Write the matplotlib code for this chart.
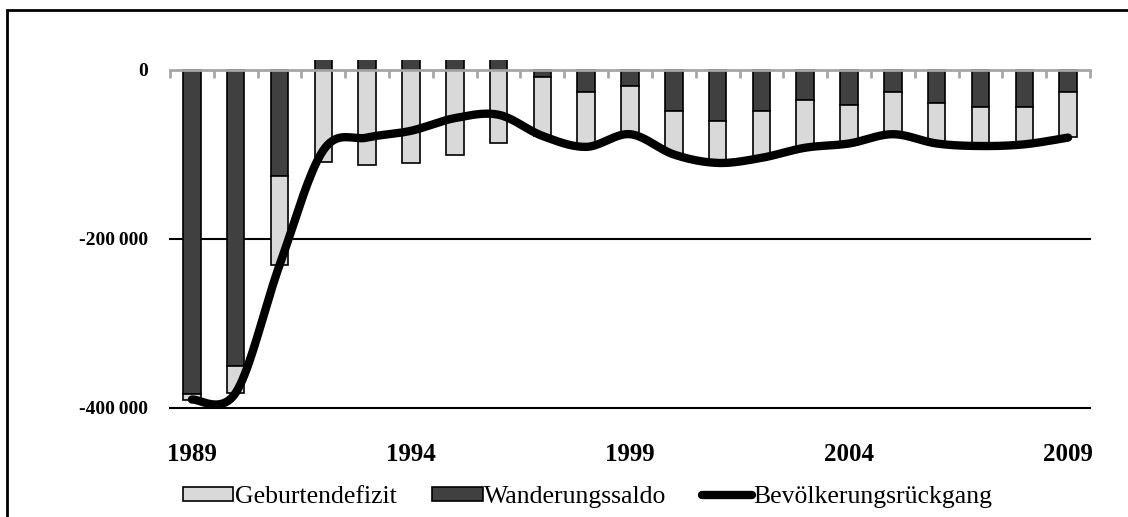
import matplotlib
matplotlib.use('Agg')
import matplotlib.pyplot as plt
import numpy as np
from matplotlib.patches import Patch, Rectangle
from matplotlib.lines import Line2D

years = list(range(1989, 2010))
# Geburtendefizit (light bars)
geburtendefizit = [-6000, -32000, -105000, -109000, -112000, -110000, -101000,
                   -87000, -70000, -65000, -57000, -51000, -49000, -54000,
                   -56000, -45000, -49000, -48000, -46000, -45000, -53000]
# Wanderungssaldo (dark bars), positive values are cut at the top of the plot
wanderungssaldo = [-384000, -350000, -126000, 14000, 32000, 38000, 44000,
                   34000, -8000, -26000, -18500, -49000, -60000, -49000,
                   -35500, -41500, -26500, -38500, -43500, -43500, -26500]
# Bevölkerungsrückgang (smoothed line)
rueckgang = [-390000, -382000, -231000, -95000, -80000, -72000, -57000,
             -53000, -78000, -91000, -76000, -100000, -110000, -104000,
             -92000, -87000, -76000, -87000, -90000, -88000, -80000]
year_labels = ['1989', '1994', '1999', '2004', '2009']
y_ticks = [0, -200000, -400000]
y_labels = ['0', '-200\u2009000', '-400\u2009000']

serif = ['Liberation Serif', 'DejaVu Serif']
light = '#d9d9d9'
dark = '#404040'


def smooth(xs, ys, n=20):
    """Catmull-Rom curve through the points (like Excel's smoothed line)."""
    xs = np.asarray(xs, float)
    ys = np.asarray(ys, float)
    px = np.concatenate([[xs[0]], xs, [xs[-1]]])
    py = np.concatenate([[ys[0]], ys, [ys[-1]]])
    out_x, out_y = [], []
    t = np.linspace(0, 1, n, endpoint=False)
    for i in range(1, len(px) - 2):
        for p, out in ((px, out_x), (py, out_y)):
            p0, p1, p2, p3 = p[i - 1], p[i], p[i + 1], p[i + 2]
            c1 = p1 + (p2 - p0) / 6
            c2 = p2 - (p3 - p1) / 6
            out.extend((1 - t) ** 3 * p1 + 3 * (1 - t) ** 2 * t * c1
                       + 3 * (1 - t) * t ** 2 * c2 + t ** 3 * p2)
    out_x.append(xs[-1])
    out_y.append(ys[-1])
    return np.array(out_x), np.array(out_y)


fig = plt.figure(figsize=(11.28, 5.17), dpi=100)
ax = fig.add_axes([170 / 1128, 1 - 408 / 517, 920 / 1128, 348 / 517])

x = np.arange(len(years))
w = np.array(wanderungssaldo)
g = np.array(geburtendefizit)
width = 0.4

ax.bar(x, w, width, color=dark, edgecolor='black', linewidth=1.2, zorder=2)
ax.bar(x, g, width, bottom=np.minimum(w, 0), color=light,
       edgecolor='black', linewidth=1.2, zorder=2)

sx, sy = smooth(x, rueckgang)
ax.plot(sx, sy, color='black', lw=6, solid_capstyle='round', zorder=4)

ax.set_xlim(-0.5, len(years) - 0.5)
ax.set_ylim(-400000, 11800)

# horizontal grid lines
for v in y_ticks[1:]:
    ax.axhline(v, color='black', lw=1.5, zorder=1, clip_on=False)

for s in ['top', 'right', 'left']:
    ax.spines[s].set_visible(False)
ax.spines['bottom'].set_position(('data', 0))
ax.spines['bottom'].set_color('#a6a6a6')
ax.spines['bottom'].set_linewidth(2)
ax.spines['bottom'].set_zorder(3)
ax.set_xticks(np.arange(-0.5, len(years), 1.0))
ax.tick_params(axis='x', direction='out', length=6, width=2,
               color='#a6a6a6', labelbottom=False)

ax.set_yticks(y_ticks)
ax.set_yticklabels(y_labels, family=serif, fontweight='bold', fontsize=14)
ax.tick_params(axis='y', length=0, pad=16)

sec = ax.secondary_xaxis('bottom')
sec.set_xticks([years.index(int(y)) for y in year_labels])
sec.set_xticklabels(year_labels, family=serif, fontweight='bold', fontsize=18)
sec.tick_params(length=0, pad=25)
sec.spines['bottom'].set_visible(False)

handles = [Patch(facecolor=light, edgecolor='black', linewidth=1.2),
           Patch(facecolor=dark, edgecolor='black', linewidth=1.2),
           Line2D([0], [0], color='black', lw=6, solid_capstyle='round')]
fig.legend(handles, ['Geburtendefizit', 'Wanderungssaldo', 'Bevölkerungsrückgang'],
           loc='center', bbox_to_anchor=(588 / 1128, 1 - 497 / 517), ncol=3,
           frameon=False, prop={'family': serif, 'size': 18.5},
           handlelength=1.95, handleheight=0.45, handletextpad=0.05,
           columnspacing=1.4)

# outer frame (only left and top edge inside the picture)
fig.add_artist(Rectangle((7 / 1128, -1.0), 2.0, 2.0 - 10 / 517,
                         transform=fig.transFigure, fill=False,
                         edgecolor='black', lw=2, clip_on=False))

fig.savefig('out.png', dpi=100)
